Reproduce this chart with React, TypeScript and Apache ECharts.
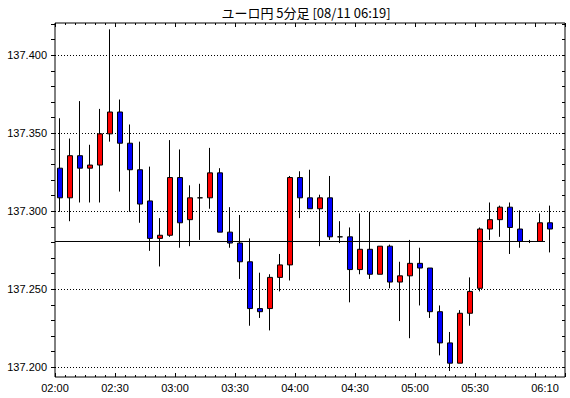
import React, { useEffect, useRef } from 'react';
import * as echarts from 'echarts';

const titleText = 'ユーロ円 5分足 [08/11 06:19]';

const categories = [
  '02:00', '02:05', '02:10', '02:15', '02:20', '02:25',
  '02:30', '02:35', '02:40', '02:45', '02:50', '02:55',
  '03:00', '03:05', '03:10', '03:15', '03:20', '03:25',
  '03:30', '03:35', '03:40', '03:45', '03:50', '03:55',
  '04:00', '04:05', '04:10', '04:15', '04:20', '04:25',
  '04:30', '04:35', '04:40', '04:45', '04:50', '04:55',
  '05:00', '05:05', '05:10', '05:15', '05:20', '05:25',
  '05:30', '05:35', '05:40', '05:45', '05:50', '05:55',
  '06:05', '06:10', '06:15',
];

const opens = [
  137.328, 137.309, 137.336, 137.328, 137.330, 137.350,
  137.364, 137.344, 137.327, 137.307, 137.283, 137.285,
  137.322, 137.295, 137.309, 137.309, 137.325, 137.287,
  137.280, 137.268, 137.238, 137.238, 137.258, 137.266,
  137.322, 137.309, 137.302, 137.309, 137.284, 137.284,
  137.263, 137.276, 137.260, 137.278, 137.255, 137.259,
  137.267, 137.264, 137.236, 137.216, 137.203, 137.235,
  137.251, 137.289, 137.295, 137.303, 137.289, 137.281,
  137.281, 137.293,
];
const closes = [
  137.309, 137.336, 137.328, 137.330, 137.350, 137.364,
  137.344, 137.327, 137.305, 137.283, 137.285, 137.322,
  137.293, 137.309, 137.309, 137.325, 137.287, 137.280,
  137.268, 137.238, 137.236, 137.258, 137.266, 137.322,
  137.309, 137.302, 137.309, 137.284, 137.284, 137.263,
  137.276, 137.260, 137.278, 137.255, 137.259, 137.267,
  137.264, 137.236, 137.216, 137.203, 137.235, 137.249,
  137.289, 137.295, 137.303, 137.290, 137.281, 137.281,
  137.293, 137.289,
];
const lows = [
  137.300, 137.294, 137.306, 137.306, 137.306, 137.345,
  137.313, 137.300, 137.293, 137.275, 137.265, 137.284,
  137.277, 137.278, 137.282, 137.302, 137.287, 137.277,
  137.257, 137.227, 137.232, 137.224, 137.249, 137.256,
  137.296, 137.302, 137.278, 137.282, 137.280, 137.242,
  137.260, 137.257, 137.260, 137.251, 137.230, 137.219,
  137.240, 137.232, 137.208, 137.198, 137.203, 137.227,
  137.249, 137.282, 137.284, 137.273, 137.277, 137.280,
  137.281, 137.274,
];
const highs = [
  137.360, 137.347, 137.371, 137.343, 137.366, 137.417,
  137.372, 137.356, 137.345, 137.329, 137.296, 137.346,
  137.340, 137.317, 137.318, 137.341, 137.328, 137.303,
  137.298, 137.283, 137.261, 137.260, 137.273, 137.323,
  137.326, 137.327, 137.311, 137.323, 137.294, 137.290,
  137.299, 137.300, 137.278, 137.279, 137.268, 137.282,
  137.277, 137.264, 137.240, 137.223, 137.237, 137.258,
  137.290, 137.306, 137.304, 137.306, 137.301, 137.282,
  137.299, 137.304,
];

const xLabelTimes = ['02:00', '02:30', '03:00', '03:30', '04:00', '04:30', '05:00', '05:30', '06:10'];
const yLabelMin = 137.2;
const yLabelMax = 137.4;
const yLabelStep = 0.05;
const yMinorStep = 0.01;
const referencePrice = 137.281;

const FONT = 'Liberation Sans';

export default function App() {
  const ref = useRef<HTMLDivElement>(null);

  useEffect(() => {
    if (!ref.current) return;
    const chart = echarts.init(ref.current, null, { renderer: 'svg' });

    const candleData = opens.map((o, i) => [o, closes[i], lows[i], highs[i]]);
    const labelMap: Record<number, string> = {};
    xLabelTimes.forEach((t) => {
      labelMap[categories.indexOf(t)] = t;
    });
    const nCat = categories.length;

    const hiddenValueX = (gridIndex: number) => ({
      gridIndex,
      type: 'value',
      min: 0,
      max: nCat,
      show: false,
    });

    const tickX = (position: string, interval: number, length: number) => ({
      gridIndex: 0,
      type: 'value',
      min: 0,
      max: nCat,
      interval,
      position,
      axisLine: { show: false, onZero: false },
      axisTick: { show: true, inside: true, length, lineStyle: { color: '#000', width: 1 } },
      axisLabel: { show: false },
      splitLine: { show: false },
    });

    const option: any = {
      animation: false,
      backgroundColor: '#fff',
      graphic: [
        {
          type: 'text',
          x: 306,
          y: 12,
          style: {
            text: titleText,
            font: '13px "Noto Sans CJK JP"',
            fill: '#000',
            align: 'center',
            verticalAlign: 'middle',
            textAlign: 'center',
            textVerticalAlign: 'middle',
          },
        },
      ],
      grid: [
        { left: 55, right: 5, top: 23, bottom: 21, show: true, borderColor: '#000', borderWidth: 1, backgroundColor: '#fff' },
        { left: 55, right: 5, top: 24.13, bottom: 30.67 },
        { left: 55, right: 5, top: 55.33, bottom: 30.67 },
      ],
      xAxis: [
        { gridIndex: 0, type: 'category', data: categories, boundaryGap: true, show: false },
        tickX('bottom', 1, 2),
        tickX('bottom', 6, 4),
        tickX('top', 1, 2),
        tickX('top', 6, 4),
        {
          gridIndex: 0,
          type: 'value',
          min: 0,
          max: nCat,
          interval: 1,
          position: 'bottom',
          axisLine: { show: false, onZero: false },
          axisTick: { show: false },
          splitLine: { show: false },
          axisLabel: {
            show: true,
            margin: 5,
            color: '#000',
            fontFamily: FONT,
            fontSize: 11,
            showMinLabel: true,
            showMaxLabel: true,
            formatter: (v: number) => labelMap[Math.round(v)] ?? '',
          },
        },
        hiddenValueX(1),
        hiddenValueX(2),
      ],
      yAxis: [
        { gridIndex: 0, type: 'value', min: 137.19414, max: 137.42106, show: false },
        {
          gridIndex: 1,
          type: 'value',
          min: yLabelMin,
          max: 137.42,
          interval: yMinorStep,
          position: 'left',
          axisLine: { show: false, onZero: false },
          axisTick: { show: true, inside: false, length: 4, lineStyle: { color: '#000' } },
          axisLabel: { show: false },
          splitLine: { show: false },
        },
        {
          gridIndex: 1,
          type: 'value',
          min: yLabelMin,
          max: 137.42,
          interval: yMinorStep,
          position: 'right',
          axisLine: { show: false, onZero: false },
          axisTick: { show: true, inside: true, length: 3, lineStyle: { color: '#000' } },
          axisLabel: { show: false },
          splitLine: { show: false },
        },
        {
          gridIndex: 2,
          type: 'value',
          min: yLabelMin,
          max: yLabelMax,
          interval: yLabelStep,
          position: 'left',
          axisLine: { show: false, onZero: false },
          axisTick: { show: false },
          axisLabel: {
            show: true,
            margin: 8,
            color: '#000',
            fontFamily: FONT,
            fontSize: 11,
            formatter: (v: number) => v.toFixed(3),
          },
          splitLine: { show: true, lineStyle: { color: '#000', width: 1, type: [1, 2] } },
        },
      ],
      series: [
        {
          type: 'candlestick',
          xAxisIndex: 0,
          yAxisIndex: 0,
          data: candleData,
          barWidth: 6,
          itemStyle: {
            color: '#ff0000',
            color0: '#0000ff',
            borderColor: '#000',
            borderColor0: '#000',
            borderColorDoji: '#000',
            borderWidth: 1,
          },
        },
        {
          type: 'line',
          xAxisIndex: 1,
          yAxisIndex: 0,
          data: [
            [0, referencePrice],
            [opens.length - 1, referencePrice],
          ],
          symbol: 'none',
          silent: true,
          lineStyle: { color: '#000', width: 1 },
        },
      ],
    };

    chart.setOption(option);
    return () => chart.dispose();
  }, []);

  return (
    <div
      ref={ref}
      style={{ position: 'fixed', left: 0, top: 0, width: 570, height: 398 }}
    />
  );
}
